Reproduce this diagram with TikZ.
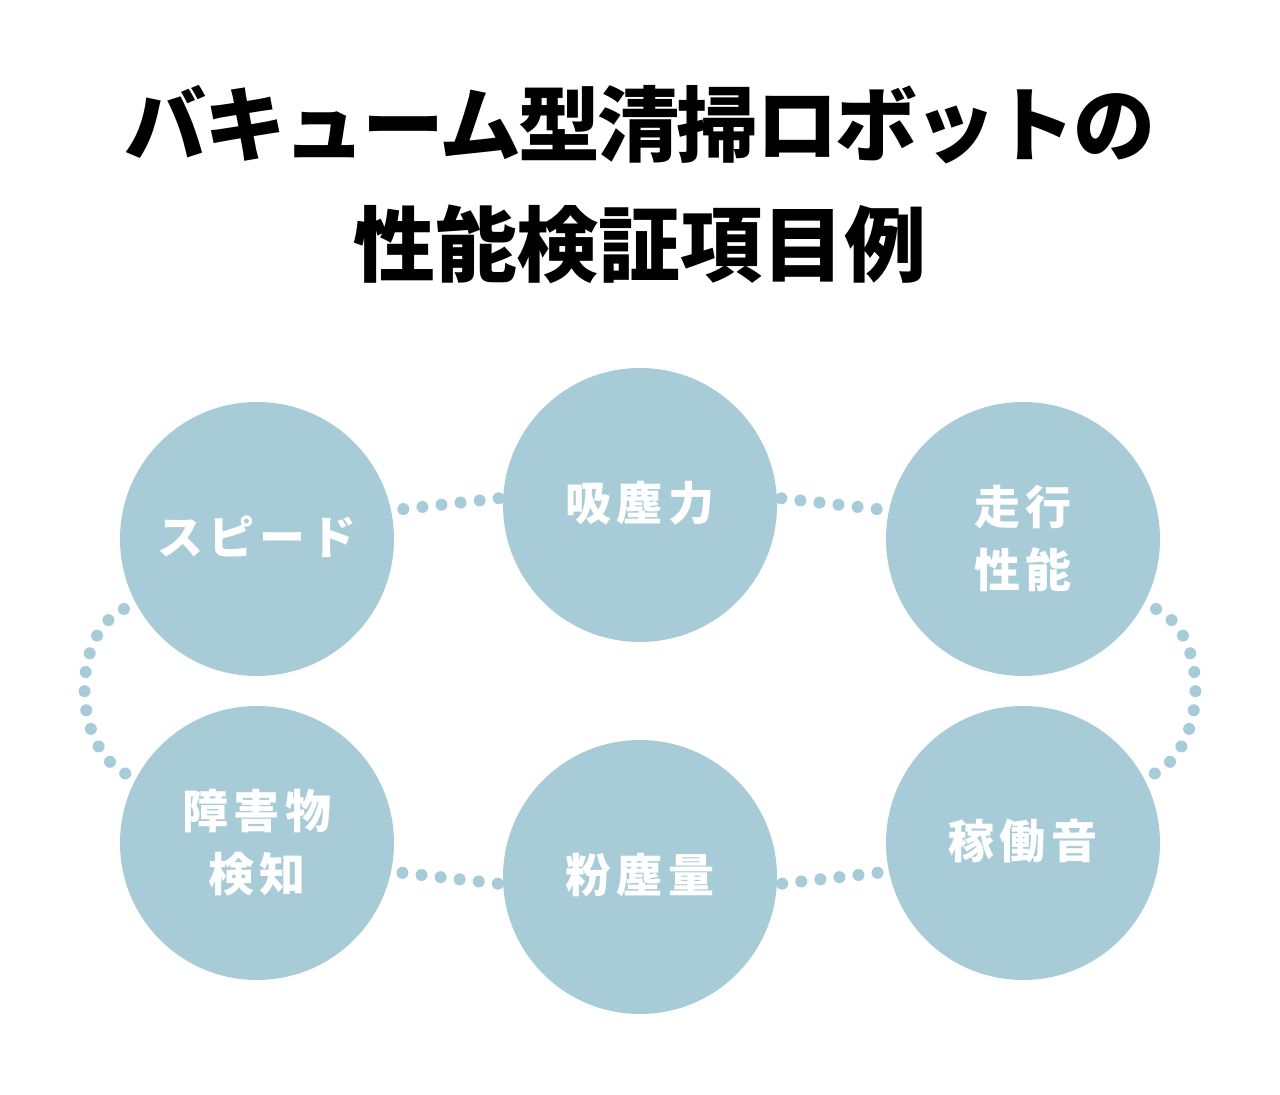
\documentclass[tikz,border=0pt]{standalone}
\usepackage{fontspec}
\usepackage{tikz}
\usetikzlibrary{positioning}
\newfontfamily\jpfont{Noto Sans CJK JP}
\newfontfamily\jptight{Noto Sans CJK JP}[LetterSpace=-3.4]
\newfontfamily\jplabel{Noto Sans CJK JP}[LetterSpace=11]
\definecolor{mydark}{RGB}{0,0,0}
\definecolor{myblue}{RGB}{168,203,216}
\tikzset{
  topic/.style={circle, fill=myblue, draw=none, minimum size=137pt,
    inner sep=0pt, text=white, align=center,
    font=\jplabel\bfseries\fontsize{23}{31.5}\selectfont},
  headline/.style={align=center, text=mydark,
    font=\jpfont\bfseries\fontsize{41}{60}\selectfont},
  dotlink/.style={draw=myblue, line width=6pt, line cap=round,
    dash pattern=on 0pt off 9.6pt}
}

\begin{document}
\begin{tikzpicture}[x=0.5pt, y=-0.5pt]
  \useasboundingbox (0,0) rectangle (1280,1095);

  % Title
  \node[headline] (head) at (640,185) {{\jptight バキューム型清掃ロボットの}\\性能検証項目例};

  % Items
  \node[topic] (speed)    at (257,539)  {\raisebox{4pt}{スピード}};
  \node[topic] (suction)  at (640,505)  {\raisebox{4pt}{吸塵力}};
  \node[topic] (travel)   at (1023,539) {走行\\性能};
  \node[topic] (obstacle) at (257,843)  {障害物\\検知};
  \node[topic] (dust)     at (640,877)  {\raisebox{4pt}{粉塵量}};
  \node[topic] (noise)    at (1023,843) {\raisebox{4pt}{稼働音}};

  % Dotted links
  \draw[dotlink, shorten <=6pt] (speed.12) -- (suction.177);
  \draw[dotlink, shorten <=6pt] (travel.168) -- (suction.3);
  \draw[dotlink, shorten <=2.5pt] (dust.183) -- (obstacle.-12);
  \draw[dotlink, shorten <=2.5pt] (dust.-3) -- (noise.192);
  \draw[dotlink, shorten <=6.5pt, shorten >=4pt] (speed.208) to[bend right=65, looseness=1.05] (obstacle.152);
  \draw[dotlink, shorten <=6.5pt, shorten >=4pt] (travel.-28) to[bend left=65, looseness=1.05] (noise.28);
\end{tikzpicture}
\end{document}
